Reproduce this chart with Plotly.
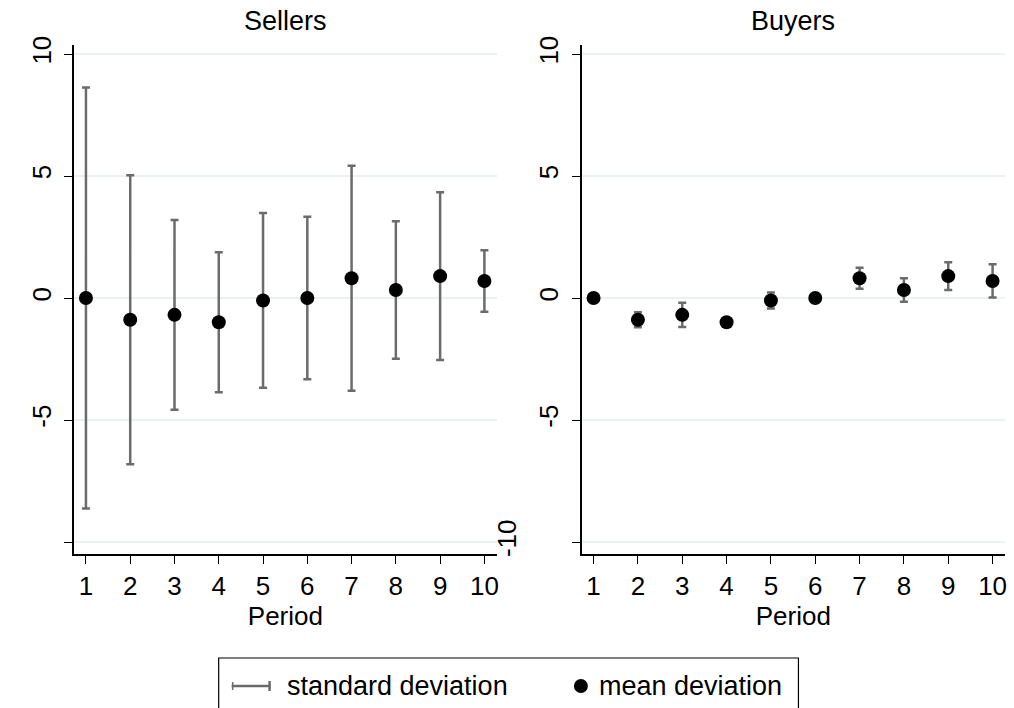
import plotly.graph_objects as go

# Period-by-period deviations
periods = [1, 2, 3, 4, 5, 6, 7, 8, 9, 10]
mean_dev = [0.0, -0.89, -0.69, -0.99, -0.10, 0.0, 0.81, 0.33, 0.90, 0.70]
seller_sd = [8.63, 5.92, 3.89, 2.87, 3.58, 3.33, 4.61, 2.82, 3.44, 1.26]
buyer_sd = [0.0, 0.31, 0.50, 0.0, 0.33, 0.0, 0.43, 0.48, 0.57, 0.68]
panel_titles = ["Sellers", "Buyers"]
y_ticks = [-10, -5, 0, 5, 10]
y_ticktext = ["", "-5", "0", "5", "10"]

W, H = 1014, 708
ML, MR, MT, MB = 74, 7, 45, 154
PW, PH = W - ML - MR, H - MT - MB

FONT = "Liberation Sans, Arial, sans-serif"
BAR = "#6b6b6b"
GRID = "#e9f1f3"


def px_x(px):
    return (px - ML) / PW


def px_y(py):
    return (H - MB - py) / PH


fig = go.Figure()

for i, sd in enumerate([seller_sd, buyer_sd]):
    ax = "" if i == 0 else str(i + 1)
    fig.add_trace(go.Scatter(
        x=periods, y=mean_dev, mode="markers",
        xaxis="x" + ax, yaxis="y" + ax,
        marker=dict(color="black", size=14),
        error_y=dict(type="data", array=sd, visible=True,
                     color=BAR, thickness=2.5, width=4),
        showlegend=False, hoverinfo="skip",
    ))

left_dom = [0, px_x(497.7)]
right_dom = [px_x(582.7), 1]

xcommon = dict(
    range=[0.73, 10.28], tickvals=periods, ticks="outside", ticklen=8,
    tickwidth=1.2, tickcolor="black", showline=True, linecolor="black",
    linewidth=1.5, showgrid=False, zeroline=False,
    tickfont=dict(family=FONT, size=26, color="black"),
    title=dict(text="Period", font=dict(family=FONT, size=26, color="black"),
               standoff=2),
)
ycommon = dict(
    range=[-10.49, 10.37], tickvals=y_ticks, ticktext=y_ticktext,
    ticks="outside", ticklen=8, tickwidth=1.2, tickcolor="black",
    showline=True, linecolor="black", linewidth=1.5,
    showgrid=True, gridcolor=GRID, gridwidth=1.5, zeroline=False,
    tickangle=-90, ticklabelstandoff=3,
    tickfont=dict(family=FONT, size=26, color="black"),
)

fig.update_layout(
    width=W, height=H,
    margin=dict(l=ML, r=MR, t=MT, b=MB),
    paper_bgcolor="white", plot_bgcolor="white",
    xaxis=dict(domain=left_dom, anchor="y", **xcommon),
    yaxis=dict(domain=[0, 1], anchor="x", **ycommon),
    xaxis2=dict(domain=right_dom, anchor="y2", **xcommon),
    yaxis2=dict(domain=[0, 1], anchor="x2", **ycommon),
    showlegend=False,
)

annotations = []
# panel titles
for title, dom in zip(panel_titles, [left_dom, right_dom]):
    annotations.append(dict(
        text=title, xref="paper", yref="paper",
        x=(dom[0] + dom[1]) / 2, y=px_y(21), xanchor="center", yanchor="middle",
        showarrow=False, font=dict(family=FONT, size=27, color="black"),
    ))

# the lone -10 label drawn beside the first panel
annotations.append(dict(
    text="-10", xref="paper", yref="paper", x=px_x(508), y=px_y(538),
    xanchor="center", yanchor="middle", textangle=-90, showarrow=False,
    font=dict(family=FONT, size=26, color="black"),
))

# legend box contents
LEG_Y = 686
annotations.append(dict(
    text="standard deviation", xref="paper", yref="paper", x=px_x(285),
    y=px_y(LEG_Y), xanchor="left", yanchor="middle", showarrow=False,
    font=dict(family=FONT, size=27, color="black"),
))
annotations.append(dict(
    text="mean deviation", xref="paper", yref="paper", x=px_x(598),
    y=px_y(LEG_Y), xanchor="left", yanchor="middle", showarrow=False,
    font=dict(family=FONT, size=27, color="black"),
))

shapes = [
    dict(type="rect", xref="paper", yref="paper",
         x0=px_x(219), x1=px_x(800), y0=px_y(658), y1=px_y(730),
         line=dict(color="black", width=1.2), fillcolor="rgba(0,0,0,0)"),
    dict(type="line", xref="paper", yref="paper",
         x0=px_x(232), x1=px_x(271), y0=px_y(LEG_Y), y1=px_y(LEG_Y),
         line=dict(color=BAR, width=2.5)),
    dict(type="line", xref="paper", yref="paper",
         x0=px_x(233), x1=px_x(233), y0=px_y(LEG_Y - 4), y1=px_y(LEG_Y + 4),
         line=dict(color=BAR, width=1.5)),
    dict(type="line", xref="paper", yref="paper",
         x0=px_x(270), x1=px_x(270), y0=px_y(LEG_Y - 5), y1=px_y(LEG_Y + 5),
         line=dict(color=BAR, width=2.5)),
    dict(type="circle", xref="paper", yref="paper",
         x0=px_x(575), x1=px_x(589), y0=px_y(LEG_Y - 7), y1=px_y(LEG_Y + 7),
         line=dict(color="black", width=0), fillcolor="black"),
]

fig.update_layout(annotations=annotations, shapes=shapes)

fig.write_html("out.html")
